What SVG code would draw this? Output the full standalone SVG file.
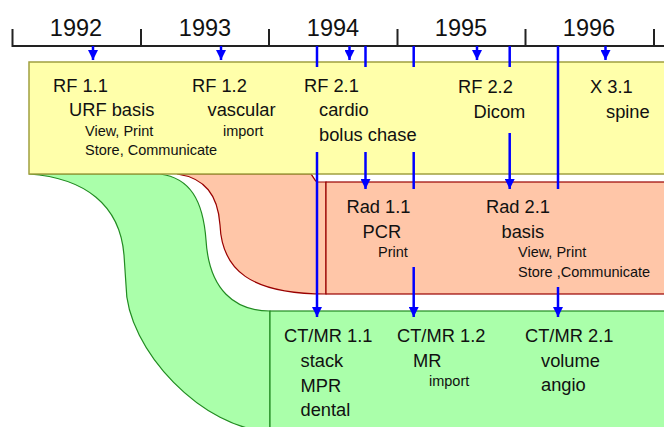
<svg xmlns="http://www.w3.org/2000/svg" width="664" height="427" viewBox="0 0 664 427">
<defs>
<marker id="ah" markerUnits="userSpaceOnUse" markerWidth="10" markerHeight="10" refX="10" refY="5" orient="auto">
<path d="M0,0 L10,5 L0,10 Z" fill="#0000ff"/>
</marker>
</defs>
<style>
text{font-family:"Liberation Sans",Arial,sans-serif;fill:#111}
.yr{font-size:23.5px;text-anchor:middle}
.lg{font-size:18.3px}
.sm{font-size:14.5px}
.tl{stroke:#222;stroke-width:2;fill:none}
.cn{stroke:#0000ff;stroke-width:2.5;fill:none}
.ar{marker-end:url(#ah)}
.grn{fill:#aaffaa;stroke:#228b22;stroke-width:1.2}
.sal{fill:#ffc6a8;stroke:#990000;stroke-width:1.2}
.yel{fill:#ffffaa;stroke:#a0a040;stroke-width:1.5}
</style>

<g id="timeline">
<path class="tl" d="M12.5,46 H670 M12.5,29 V47 M141,29 V47 M269,29 V47 M397.5,29 V47 M525.5,29 V47 M654,29 V47"/>
<text class="yr" x="76" y="36">1992</text>
<text class="yr" x="205" y="36">1993</text>
<text class="yr" x="333" y="36">1994</text>
<text class="yr" x="461" y="36">1995</text>
<text class="yr" x="589" y="36">1996</text>
</g>

<g id="band-ctmr">
<path class="grn" d="M29,174 C85,178 120,205 124,255 L126,285 C126,350 205,431 270,431 L270,311 C235,311 209,290 206,240 C203,200 190,178 160,174 Z"/>
<rect class="grn" x="270" y="311" width="410" height="130"/>
</g>

<g id="band-rad">
<path class="sal" d="M177,174 C205,178 218,195 220,225 C222,270 250,294 326,294 L326,182 L317,182 C314,180 313,176 311,174 Z"/>
<rect class="sal" x="326" y="182" width="350" height="112"/>
</g>

<g id="band-rf">
<rect class="yel" x="29" y="62" width="650" height="112"/>
</g>

<g id="connectors">
<line class="cn ar" x1="93" y1="46" x2="93" y2="60"/>
<line class="cn ar" x1="221" y1="46" x2="221" y2="60"/>
<line class="cn ar" x1="349.5" y1="46" x2="349.5" y2="60"/>
<line class="cn ar" x1="477" y1="46" x2="477" y2="60"/>
<line class="cn ar" x1="605.5" y1="46" x2="605.5" y2="60"/>
<line class="cn" x1="317" y1="46" x2="317" y2="67"/>
<line class="cn ar" x1="317" y1="152" x2="317" y2="317"/>
<line class="cn" x1="365.5" y1="46" x2="365.5" y2="67"/>
<line class="cn ar" x1="365.5" y1="152" x2="365.5" y2="189"/>
<line class="cn" x1="413.7" y1="46" x2="413.7" y2="67"/>
<line class="cn" x1="413.7" y1="152" x2="413.7" y2="189"/>
<line class="cn ar" x1="413.7" y1="267" x2="413.7" y2="317"/>
<line class="cn" x1="509.7" y1="46" x2="509.7" y2="67"/>
<line class="cn ar" x1="509.7" y1="133" x2="509.7" y2="189"/>
<line class="cn" x1="558" y1="46" x2="558" y2="189"/>
<line class="cn ar" x1="558" y1="287" x2="558" y2="317"/>
</g>

<g id="rf11"><text class="lg" x="53" y="91.5">RF 1.1</text><text class="lg" x="69" y="115.5">URF basis</text><text class="sm" x="85" y="136">View, Print</text><text class="sm" x="85" y="154.5">Store, Communicate</text></g>
<g id="rf12"><text class="lg" x="192" y="91.5">RF 1.2</text><text class="lg" x="207.5" y="115.5">vascular</text><text class="sm" x="223" y="136">import</text></g>
<g id="rf21"><text class="lg" x="304" y="91.5">RF 2.1</text><text class="lg" x="319" y="115.5">cardio</text><text class="lg" x="319" y="140.5">bolus chase</text></g>
<g id="rf22"><text class="lg" x="458" y="93">RF 2.2</text><text class="lg" x="473.5" y="118">Dicom</text></g>
<g id="x31"><text class="lg" x="590" y="93">X 3.1</text><text class="lg" x="606" y="118">spine</text></g>
<g id="rad11"><text class="lg" x="346.5" y="212.5">Rad 1.1</text><text class="lg" x="362.5" y="237.5">PCR</text><text class="sm" x="378" y="257">Print</text></g>
<g id="rad21"><text class="lg" x="486" y="212.5">Rad 2.1</text><text class="lg" x="501.5" y="237.5">basis</text><text class="sm" x="518" y="257">View, Print</text><text class="sm" x="518" y="276.5">Store ,Communicate</text></g>
<g id="ctmr11"><text class="lg" x="284" y="342">CT/MR 1.1</text><text class="lg" x="300.5" y="366.5">stack</text><text class="lg" x="300.5" y="391.5">MPR</text><text class="lg" x="300.5" y="415.5">dental</text></g>
<g id="ctmr12"><text class="lg" x="397" y="342">CT/MR 1.2</text><text class="lg" x="413" y="366.5">MR</text><text class="sm" x="429" y="386">import</text></g>
<g id="ctmr21"><text class="lg" x="525" y="342">CT/MR 2.1</text><text class="lg" x="541" y="366.5">volume</text><text class="lg" x="541" y="390.5">angio</text></g>
</svg>
